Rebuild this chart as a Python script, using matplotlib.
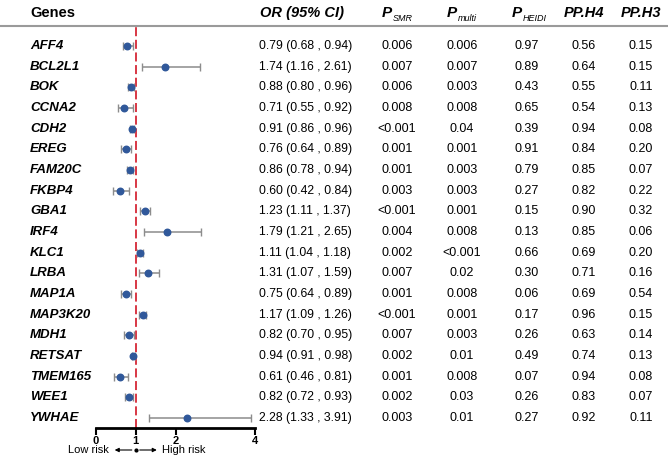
import matplotlib
matplotlib.use("Agg")
import matplotlib.pyplot as plt
from matplotlib.transforms import blended_transform_factory

plt.rcParams['font.family'] = ['Liberation Sans', 'DejaVu Sans']

genes = ['AFF4', 'BCL2L1', 'BOK', 'CCNA2', 'CDH2', 'EREG', 'FAM20C', 'FKBP4', 'GBA1', 'IRF4',
         'KLC1', 'LRBA', 'MAP1A', 'MAP3K20', 'MDH1', 'RETSAT', 'TMEM165', 'WEE1', 'YWHAE']
odds = [0.79, 1.74, 0.88, 0.71, 0.91, 0.76, 0.86, 0.60, 1.23, 1.79,
        1.11, 1.31, 0.75, 1.17, 0.82, 0.94, 0.61, 0.82, 2.28]
ci_lo = [0.68, 1.16, 0.80, 0.55, 0.86, 0.64, 0.78, 0.42, 1.11, 1.21,
         1.04, 1.07, 0.64, 1.09, 0.70, 0.91, 0.46, 0.72, 1.33]
ci_hi = [0.94, 2.61, 0.96, 0.92, 0.96, 0.89, 0.94, 0.84, 1.37, 2.65,
         1.18, 1.59, 0.89, 1.26, 0.95, 0.98, 0.81, 0.93, 3.91]
p_smr = ['0.006', '0.007', '0.006', '0.008', '<0.001', '0.001', '0.001', '0.003', '<0.001', '0.004',
         '0.002', '0.007', '0.001', '<0.001', '0.007', '0.002', '0.001', '0.002', '0.003']
p_multi = ['0.006', '0.007', '0.003', '0.008', '0.04', '0.001', '0.003', '0.003', '0.001', '0.008',
           '<0.001', '0.02', '0.008', '0.001', '0.003', '0.01', '0.008', '0.03', '0.01']
p_heidi = ['0.97', '0.89', '0.43', '0.65', '0.39', '0.91', '0.79', '0.27', '0.15', '0.13',
           '0.66', '0.30', '0.06', '0.17', '0.26', '0.49', '0.07', '0.26', '0.27']
pp_h4 = ['0.56', '0.64', '0.55', '0.54', '0.94', '0.84', '0.85', '0.82', '0.90', '0.85',
         '0.69', '0.71', '0.69', '0.96', '0.63', '0.74', '0.94', '0.83', '0.92']
pp_h3 = ['0.15', '0.15', '0.11', '0.13', '0.08', '0.20', '0.07', '0.22', '0.32', '0.06',
         '0.20', '0.16', '0.54', '0.15', '0.14', '0.13', '0.08', '0.07', '0.11']

W, H = 668, 458
fig = plt.figure(figsize=(W / 100, H / 100), dpi=100)

# forest axes: x 0..4 between px 96 and 255, rows from px 46 step 20.67
ax_left, ax_right = 96, 255
ax_top, ax_bot = 27, 428
ax = fig.add_axes([ax_left / W, 1 - ax_bot / H, (ax_right - ax_left) / W, (ax_bot - ax_top) / H])
step = (418 - 46) / 18
ax.set_xlim(0, 4)
ax.set_ylim((ax_bot - 46) / step, -(46 - ax_top) / step)

rows = list(range(len(genes)))
xerr = [[o - l for o, l in zip(odds, ci_lo)], [h - o for o, h in zip(odds, ci_hi)]]
ax.errorbar(odds, rows, xerr=xerr, fmt='none', ecolor='#8c8c8c', elinewidth=1.1,
            capsize=3, capthick=1.0, zorder=2)
ax.scatter(odds, rows, s=22, color='#30589a', zorder=3)
ax.axvline(1, color='#d62836', lw=1.3, ls=(0, (5, 2)), zorder=1)

for s in ['top', 'right', 'left']:
    ax.spines[s].set_visible(False)
ax.spines['bottom'].set_linewidth(2)
ax.set_yticks([])
ax.set_xticks([0, 1, 2, 4])
ax.set_xticklabels(['0', '1', '2', '4'], fontweight='bold', fontsize=8)
ax.tick_params(axis='x', direction='out', length=5, width=1.5, pad=0.5)
ax.patch.set_visible(False)

# header line
fig.add_artist(plt.Line2D([0, 1], [1 - 26 / H, 1 - 26 / H], color='#9a9a9a', lw=1.5))

tr = blended_transform_factory(fig.transFigure, ax.transData)
hy = 1 - 13 / H
fig.text(30 / W, hy, 'Genes', fontsize=10.5, fontweight='bold', va='center', ha='left')
fig.text(302 / W, hy, 'OR (95% CI)', fontsize=10.5, fontweight='bold', fontstyle='italic',
         va='center', ha='center')

cols = [(397, 'SMR', p_smr), (462, 'multi', p_multi), (527, 'HEIDI', p_heidi)]
for cx, sub, vals in cols:
    fig.text((cx - 10) / W, hy, 'P', fontsize=11, fontweight='bold', fontstyle='italic',
             va='center', ha='center')
    ax.annotate(sub, xy=((cx - 4) / W, hy), xycoords='figure fraction',
                xytext=(0, -4), textcoords='offset points', fontsize=6.5,
                fontstyle='italic', va='center', ha='left')
    for i, v in enumerate(vals):
        fig.text(cx / W, i, v, transform=tr, fontsize=9, va='center', ha='center')

for cx, name, vals in [(584, 'PP.H4', pp_h4), (641, 'PP.H3', pp_h3)]:
    fig.text(cx / W, hy, name, fontsize=10.5, fontweight='bold', fontstyle='italic',
             va='center', ha='center')
    for i, v in enumerate(vals):
        fig.text(cx / W, i, v, transform=tr, fontsize=9, va='center', ha='center')

for i, g in enumerate(genes):
    fig.text(30 / W, i, g, transform=tr, fontsize=9.5, fontweight='bold', fontstyle='italic',
             va='center', ha='left')
    fig.text(259 / W, i, f'{odds[i]:.2f} ({ci_lo[i]:.2f} , {ci_hi[i]:.2f})', transform=tr,
             fontsize=8.8, va='center', ha='left')

# risk direction labels
tr2 = blended_transform_factory(ax.transData, fig.transFigure)
ly = 1 - 450 / H
ax.annotate('', xy=(0.4, ly), xytext=(0.97, ly), xycoords=tr2, textcoords=tr2,
            arrowprops=dict(arrowstyle='-|>', color='black', lw=0.8, mutation_scale=6),
            annotation_clip=False)
ax.annotate('', xy=(1.6, ly), xytext=(1.03, ly), xycoords=tr2, textcoords=tr2,
            arrowprops=dict(arrowstyle='-|>', color='black', lw=0.8, mutation_scale=6),
            annotation_clip=False)
ax.plot([1], [ly], 'o', color='black', ms=2, transform=tr2, clip_on=False)
ax.text(0.32, ly, 'Low risk', transform=tr2, fontsize=8, ha='right', va='center')
ax.text(1.65, ly, 'High risk', transform=tr2, fontsize=8, ha='left', va='center')

fig.savefig('out.png', dpi=100)
